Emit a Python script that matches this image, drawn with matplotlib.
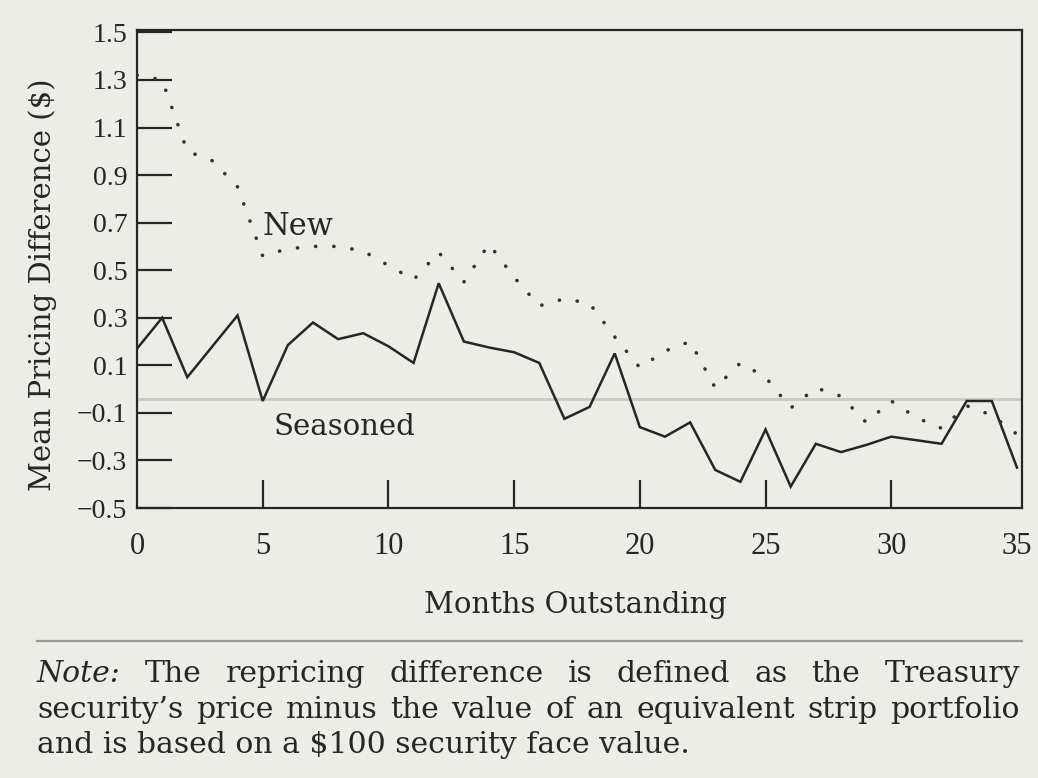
import numpy as np
import matplotlib
matplotlib.use("Agg")
import matplotlib.pyplot as plt
from matplotlib.lines import Line2D

# ---- data ----
months = list(range(0, 36))
seasoned = [0.17, 0.30, 0.05, 0.18, 0.31, -0.05, 0.185, 0.28, 0.21, 0.235,
            0.18, 0.11, 0.445, 0.20, 0.175, 0.155, 0.11, -0.125, -0.075, 0.15,
            -0.16, -0.20, -0.14, -0.34, -0.39, -0.17, -0.41, -0.23, -0.265, -0.235,
            -0.20, -0.215, -0.23, -0.05, -0.05, -0.33]
new = [1.32, 1.30, 1.00, 0.96, 0.85, 0.56, 0.59, 0.60, 0.60, 0.58,
       0.52, 0.46, 0.575, 0.45, 0.61, 0.47, 0.35, 0.38, 0.36, 0.22,
       0.09, 0.16, 0.20, 0.005, 0.11, 0.05, -0.08, 0.005, -0.03, -0.14,
       -0.05, -0.12, -0.165, -0.07, -0.11, -0.19]
y_ticks = [-0.5, -0.3, -0.1, 0.1, 0.3, 0.5, 0.7, 0.9, 1.1, 1.3, 1.5]
x_ticks = [0, 5, 10, 15, 20, 25, 30, 35]
ref_line = -0.04

series_labels = ["New", "Seasoned"]
x_label = "Months Outstanding"
y_label = "Mean Pricing Difference (\\$)"
note_lines = [
    ["Note:", "The", "repricing", "difference", "is", "defined", "as", "the", "Treasury"],
    ["security\u2019s", "price", "minus", "the", "value", "of", "an", "equivalent", "strip", "portfolio"],
]
note_last = "and is based on a \\$100 security face value."

# ---- style ----
BG = "#ecede7"
INK = "#262626"
W, H = 1038, 778
fig = plt.figure(figsize=(W / 100, H / 100), dpi=100, facecolor=BG)

def fx(px):
    return px / W

def fy(py):
    return 1 - py / H

ax = fig.add_axes([fx(137), fy(508), fx(1022 - 137), (508 - 30) / H])
ax.set_facecolor(BG)
ax.set_xlim(0, 35.2)
ax.set_ylim(-0.5, 1.51)

ax.axhline(ref_line, color="#c9cac3", lw=2.0, zorder=1)
ax.plot(months, seasoned, color=INK, lw=1.8, zorder=3, solid_joinstyle="miter")
ax.plot(months, new, color="#333333", lw=2.6, linestyle=(0, (0.05, 5.0)),
        dash_capstyle="round", zorder=3)

tick_font = "Liberation Serif"
ax.set_yticks(y_ticks)
ax.set_yticklabels([("\u2212%.1f" % abs(v)) if v < 0 else "%.1f" % v for v in y_ticks],
                   fontfamily=tick_font, fontsize=20, color=INK)
ax.set_xticks(x_ticks)
ax.set_xticklabels([str(v) for v in x_ticks], fontfamily=tick_font, fontsize=22, color=INK)
ax.tick_params(axis="y", direction="in", length=25, width=1.6, pad=7, color=INK)
ax.tick_params(axis="x", direction="in", length=20, width=1.6, pad=17, color=INK)
for t in ax.xaxis.get_major_ticks():
    if t.get_loc() in (0, 35):
        t.tick1line.set_visible(False)
for s in ax.spines.values():
    s.set_color(INK)
    s.set_linewidth(1.6)

lab_font = "DejaVu Serif"
ax.text(6.4, 0.647, series_labels[0], fontfamily=lab_font, fontsize=22,
        color=INK, ha="center", va="baseline")
ax.text(8.25, -0.193, series_labels[1], fontfamily=lab_font, fontsize=21,
        color=INK, ha="center", va="baseline")

fig.text(fx(43), fy(285), y_label, rotation=90, fontfamily=lab_font, fontsize=21,
         color=INK, ha="center", va="center")
fig.text(fx(575), fy(605), x_label, fontfamily=lab_font, fontsize=21,
         color=INK, ha="center", va="center")

fig.add_artist(Line2D([fx(37), fx(1022)], [fy(641), fy(641)], color="#9a9a96", lw=1.6))

# ---- justified note ----
renderer = fig.canvas.get_renderer()
left_px, right_px = 37, 1020
baselines = [682, 718, 753]
note_size = 21.5
for li, words in enumerate(note_lines):
    arts = []
    for wi, w in enumerate(words):
        style = "italic" if (li == 0 and wi == 0) else "normal"
        t = fig.text(0, fy(baselines[li]), w, fontfamily=lab_font, fontsize=note_size,
                     style=style, color=INK, ha="left", va="baseline")
        arts.append(t)
    widths = [a.get_window_extent(renderer).width for a in arts]
    gap = (right_px - left_px - sum(widths)) / (len(arts) - 1)
    x = left_px
    for a, wdt in zip(arts, widths):
        a.set_x(fx(x))
        x += wdt + gap
fig.text(fx(left_px), fy(baselines[2]), note_last, fontfamily=lab_font, fontsize=note_size,
         color=INK, ha="left", va="baseline")

fig.savefig("out.png", dpi=100, facecolor=BG)
